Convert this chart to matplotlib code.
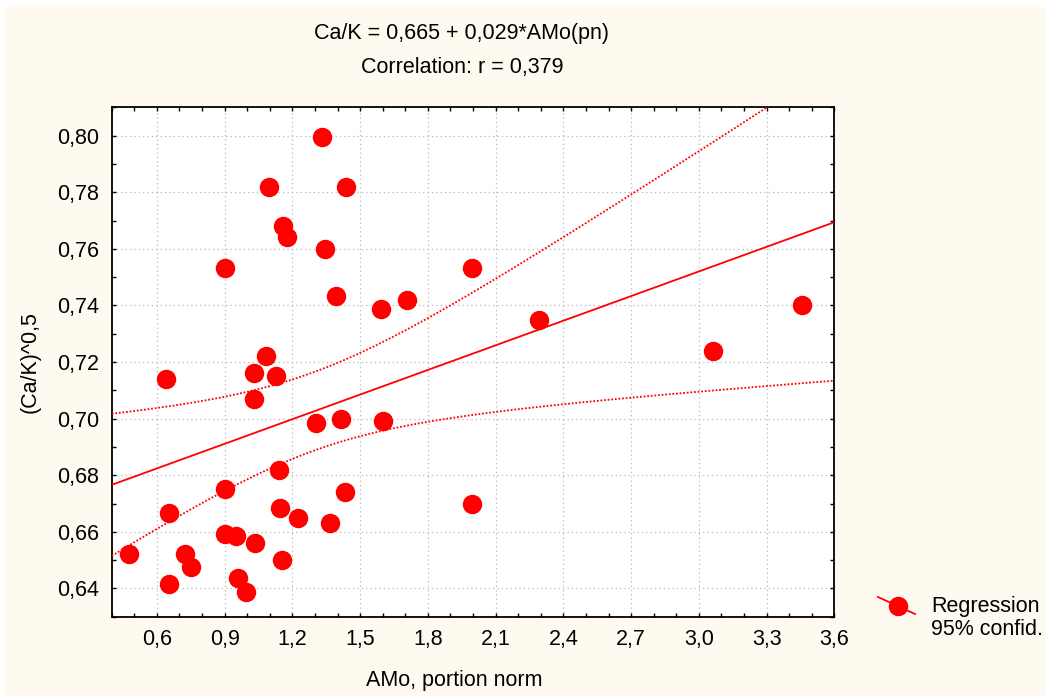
"""
Ca/K vs AMo: scatter with regression line and 95% confidence band
"""

import numpy as np
import matplotlib
matplotlib.use("Agg")
import matplotlib.pyplot as plt
from matplotlib.lines import Line2D
from matplotlib.patches import Rectangle
from matplotlib.ticker import MultipleLocator, FuncFormatter

plt.rcParams["font.family"] = ["Liberation Sans", "DejaVu Sans"]

# observed points (AMo, portion norm) -> (Ca/K)^0.5
amo = [0.477, 0.640, 0.653, 0.653, 0.725, 0.753, 0.900, 0.900, 0.951, 0.959,
       0.993, 1.028, 1.028, 1.034, 1.084, 1.128, 1.143, 1.147, 1.154, 1.226,
       1.304, 1.366, 1.417, 1.432, 1.600, 0.900, 1.098, 1.159, 1.176, 1.331,
       1.437, 1.346, 1.394, 1.592, 1.706, 1.997, 2.290, 3.062, 3.457, 1.997]
cak = [0.652, 0.714, 0.6666, 0.6416, 0.652, 0.6476, 0.6751, 0.6591, 0.6585, 0.6437,
       0.6388, 0.7161, 0.7070, 0.6562, 0.722, 0.7149, 0.6819, 0.6683, 0.650, 0.6649,
       0.6986, 0.6631, 0.6997, 0.674, 0.699, 0.7532, 0.7817, 0.7681, 0.7641, 0.7994,
       0.7817, 0.7599, 0.7434, 0.7386, 0.7418, 0.7533, 0.735, 0.7238, 0.7401, 0.6698]

x_ticks = [0.6, 0.9, 1.2, 1.5, 1.8, 2.1, 2.4, 2.7, 3.0, 3.3, 3.6]
y_ticks = [0.64, 0.66, 0.68, 0.70, 0.72, 0.74, 0.76, 0.78, 0.80]

# regression from the chart header
intercept = 0.665
slope = 0.029
r_value = 0.379
t_crit = 2.024  # t(0.975, df=38)

RED = "#ff0000"
BG = "#fffaf0"
FS = 15.5


def comma(v, digits):
    return f"{v:.{digits}f}".replace(".", ",")


x = np.array(amo)
y = np.array(cak)
n = len(x)
resid = y - (intercept + slope * x)
s = np.sqrt(np.sum(resid ** 2) / (n - 2))
sxx = np.sum((x - x.mean()) ** 2)

xs = np.linspace(0.4, 3.6, 200)
fit = intercept + slope * xs
half = t_crit * s * np.sqrt(1.0 / n + (xs - x.mean()) ** 2 / sxx)

fig = plt.figure(figsize=(10.45, 6.96), dpi=100, facecolor="white")
fig.add_artist(Rectangle((4 / 1045, 0), 1, 1 - 7 / 696, transform=fig.transFigure,
                         facecolor=BG, edgecolor="none", zorder=-10))
ax = fig.add_axes([0.1069, 0.1139, 0.6915, 0.7319])
ax.set_facecolor("white")

ax.plot(xs, fit, color=RED, lw=1.3, zorder=3)
ax.plot(xs, fit + half, color=RED, lw=1.3, ls=(0, (1, 1)), zorder=3)
ax.plot(xs, fit - half, color=RED, lw=1.3, ls=(0, (1, 1)), zorder=3)
ax.plot(x, y, "o", color=RED, ms=13, mec=RED, zorder=4)

ax.set_xlim(0.4, 3.6)
ax.set_ylim(0.63, 0.81)
ax.set_xticks(x_ticks)
ax.set_yticks(y_ticks)
ax.xaxis.set_minor_locator(MultipleLocator(0.1))
ax.yaxis.set_minor_locator(MultipleLocator(0.01))
ax.xaxis.set_major_formatter(FuncFormatter(lambda v, p: comma(v, 1)))
ax.yaxis.set_major_formatter(FuncFormatter(lambda v, p: comma(v, 2)))

ax.tick_params(which="both", direction="in", top=True, right=True,
               length=3, width=1, labelsize=FS)
ax.tick_params(axis="x", pad=9)
ax.tick_params(axis="y", pad=9)

ax.grid(which="major", color="#b8b8b8", lw=0.9, ls=(0, (1, 2.5)))
for sp in ax.spines.values():
    sp.set_linewidth(1.3)

ax.set_xlabel("AMo, portion norm", fontsize=FS, labelpad=10)
ax.xaxis.set_label_coords(0.474, -0.105)
ax.set_ylabel("(Ca/K)^0,5", fontsize=FS, labelpad=12)

fig.text(0.442, 1 - 33 / 696, f"Ca/K = {comma(intercept, 3)} + {comma(slope, 3)}*AMo(pn)",
         ha="center", va="center", fontsize=FS)
fig.text(0.442, 1 - 68 / 696, f"Correlation: r = {comma(r_value, 3)}",
         ha="center", va="center", fontsize=FS)

# legend glyph: slanted line through a dot
fig.add_artist(Line2D([878 / 1045, 915 / 1045], [1 - 597 / 696, 1 - 614 / 696],
                      transform=fig.transFigure, color=RED, lw=1.3))
fig.add_artist(Line2D([897.7 / 1045], [1 - 606 / 696], transform=fig.transFigure,
                      marker="o", ms=13, color=RED))
fig.text(931 / 1045, 1 - 618 / 696, "Regression\n95% confid.", ha="left", va="center",
         fontsize=FS, linespacing=1.15)

fig.savefig("out.png", dpi=100, facecolor="white")
